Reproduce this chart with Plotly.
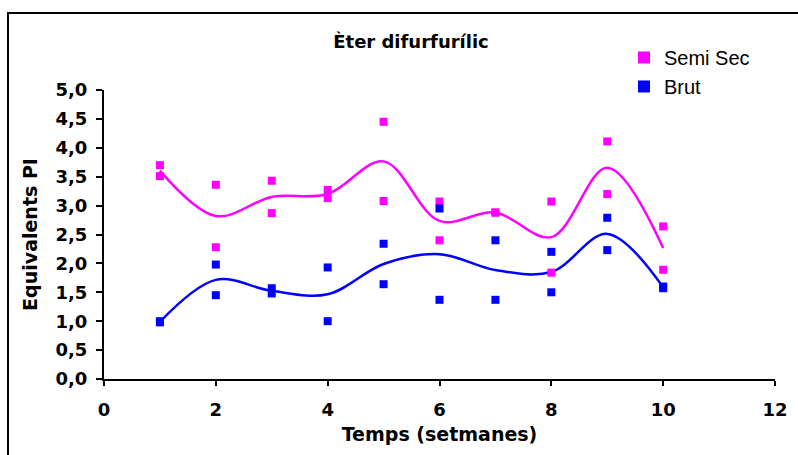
import plotly.graph_objects as go
import numpy as np

weeks = [1, 2, 3, 4, 5, 6, 7, 8, 9, 10]
semi_a = [3.70, 3.36, 3.43, 3.27, 4.45, 3.07, 2.88, 3.07, 4.11, 2.64]
semi_b = [3.51, 2.28, 2.87, 3.13, 3.08, 2.40, 2.88, 1.84, 3.20, 1.89]
brut_a = [1.00, 1.98, 1.57, 1.93, 2.34, 2.95, 2.40, 2.20, 2.79, 1.60]
brut_b = [0.98, 1.45, 1.48, 1.00, 1.64, 1.37, 1.37, 1.50, 2.23, 1.57]

x_ticks = [0, 2, 4, 6, 8, 10, 12]
y_ticks = [0, 0.5, 1, 1.5, 2, 2.5, 3, 3.5, 4, 4.5, 5]

MAG = "#FF00FF"
BLU = "#0000FF"

semi_mean = list((np.array(semi_a) + np.array(semi_b)) / 2)
brut_mean = list((np.array(brut_a) + np.array(brut_b)) / 2)

fig = go.Figure()
fig.add_trace(go.Scatter(x=weeks, y=semi_mean, mode="lines", line=dict(color=MAG, width=2.5, shape="spline", smoothing=1.0), showlegend=False, hoverinfo="skip"))
fig.add_trace(go.Scatter(x=weeks, y=brut_mean, mode="lines", line=dict(color=BLU, width=2.5, shape="spline", smoothing=1.0), showlegend=False, hoverinfo="skip"))
fig.add_trace(go.Scatter(x=weeks + weeks, y=semi_a + semi_b, mode="markers", name="Semi Sec",
                         marker=dict(symbol="square", size=8, color=MAG)))
fig.add_trace(go.Scatter(x=weeks + weeks, y=brut_a + brut_b, mode="markers", name="Brut",
                         marker=dict(symbol="square", size=8, color=BLU)))

font_b = dict(family="DejaVu Sans", size=18, color="black", weight="bold")

fig.update_layout(
    width=798, height=455,
    margin=dict(l=104, r=23, t=90, b=76, autoexpand=False),
    paper_bgcolor="white", plot_bgcolor="white",
    separators=",.",
    title=dict(text="Èter difurfurílic", x=(411 - 104) / 671, xref="paper", xanchor="center", y=1 - 42 / 455, yanchor="middle",
               font=dict(family="DejaVu Sans", size=18, color="black", weight="bold")),
    legend=dict(x=(624 - 104) / 671, y=1.18, xanchor="left", yanchor="top", bgcolor="rgba(0,0,0,0)",
                font=dict(family="Liberation Sans", size=20, color="black"), itemsizing="constant",
                tracegroupgap=0),
    xaxis=dict(range=[0, 12], tickvals=x_ticks, ticks="outside", ticklen=5, tickwidth=1.5, tickcolor="black",
               showline=True, linecolor="black", linewidth=2, showgrid=False, zeroline=False,
               tickfont=font_b, ticklabelstandoff=8, automargin=False,
               title=dict(text="Temps (setmanes)", font=dict(family="DejaVu Sans", size=19, color="black", weight="bold"), standoff=9)),
    yaxis=dict(range=[0, 5], tickvals=y_ticks, tickformat=".1f", ticks="outside", ticklen=6, tickwidth=1.5, tickcolor="black",
               showline=True, linecolor="black", linewidth=2, showgrid=False, zeroline=False,
               tickfont=font_b, ticklabelstandoff=5, automargin=False,
               title=dict(text="Equivalents PI", font=dict(family="DejaVu Sans", size=19, color="black", weight="bold"), standoff=13)),
    shapes=[dict(type="rect", xref="paper", yref="paper",
                 x0=(8 - 104) / 671, x1=(805 - 104) / 671,
                 y0=-0.4, y1=1 + (90 - 13) / 289,
                 line=dict(color="black", width=2), fillcolor="rgba(0,0,0,0)", layer="below")],
)

fig.write_html("out.html")
